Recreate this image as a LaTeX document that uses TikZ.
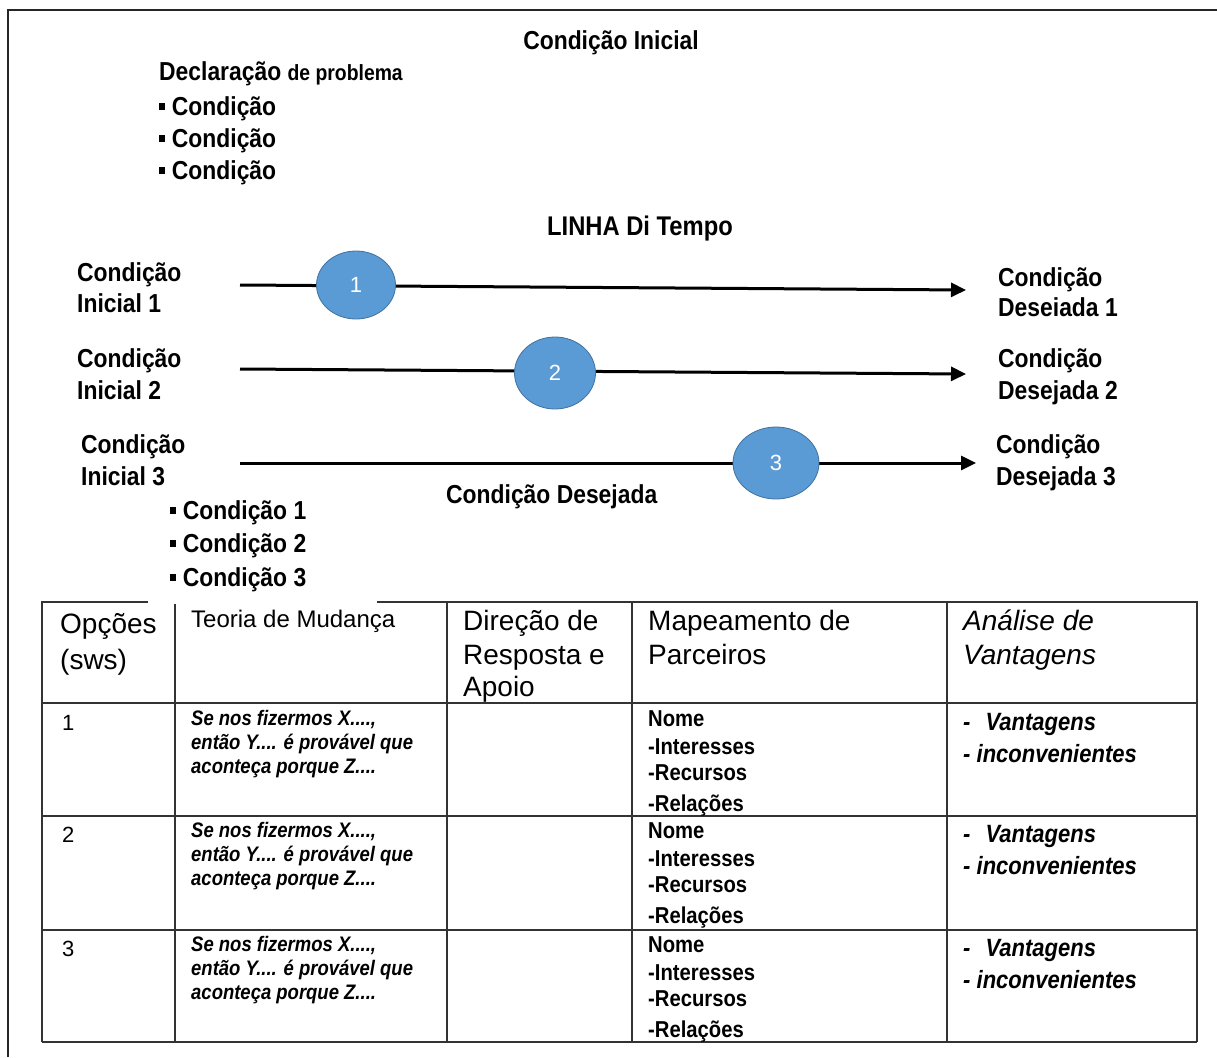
\documentclass[tikz,border=0pt]{standalone}
\usepackage{fontspec}
\setmainfont{Liberation Sans}
\newfontfamily\cf{Liberation Sans}[FakeStretch=0.88]
\usetikzlibrary{arrows.meta,shapes.geometric}
\newcommand\fsz[1]{\fontsize{#1}{#1}\selectfont}
\newcommand\sq{\rule[0.2em]{0.24em}{0.28em}\hspace{0.25em}}
\begin{document}
\begin{tikzpicture}[x=1pt,y=-1pt,
  frame/.style={line width=2.6pt, draw=black!85},
  grid/.style={line width=2pt, draw=black!80},
  tl/.style={line width=3pt, -{Triangle[length=15pt,width=14pt]}},
  bub/.style={ellipse, fill={rgb,255:red,91;green,155;blue,213}, draw={rgb,255:red,65;green,113;blue,156}, line width=0.8pt, inner sep=0pt, text=white, font=\fsz{22}},
  lab/.style={inner sep=0pt, anchor=base west, font=\cf\bfseries\fsz{26}},
  hd/.style={inner sep=0pt, anchor=base west, font=\fsz{28}},
  th/.style={inner sep=0pt, anchor=base west, font=\cf\bfseries\itshape\fsz{21}},
  pm/.style={inner sep=0pt, anchor=base west, font=\cf\bfseries\fsz{23}},
  va/.style={inner sep=0pt, anchor=base west, font=\cf\bfseries\itshape\fsz{25}},
  num/.style={inner sep=0pt, anchor=base west, font=\fsz{22}}]
\useasboundingbox (0,0) rectangle (1217,1057);
% outer frame
\draw[frame] (8,1057) -- (8,10) -- (1217,10);

% top texts
\node[lab, anchor=base] (ci) at (611,49) {Condição Inicial};
\node[lab] (dp) at (159,81) {Declaração {\fsz{22}de problema}};
\node[lab] (c1) at (159,115) {\sq Condição};
\node[lab] (c2) at (159,147) {\sq Condição};
\node[lab] (c3) at (159,179) {\sq Condição};
\node[lab, anchor=base, font=\cf\bfseries\fsz{27}] (lt) at (640,235) {LINHA Di Tempo};

% timeline labels
\node[lab] (i1a) at (77,281) {Condição};
\node[lab] (i1b) at (77,312) {Inicial 1};
\node[lab] (d1a) at (998,286) {Condição};
\node[lab] (d1b) at (998,316) {Deseiada 1};
\node[lab] (i2a) at (77,367) {Condição};
\node[lab] (i2b) at (77,399) {Inicial 2};
\node[lab] (d2a) at (998,367) {Condição};
\node[lab] (d2b) at (998,399) {Desejada 2};
\node[lab] (i3a) at (81,453) {Condição};
\node[lab] (i3b) at (81,485) {Inicial 3};
\node[lab] (d3a) at (996,453) {Condição};
\node[lab] (d3b) at (996,485) {Desejada 3};
\node[lab] (cd) at (446,503) {Condição Desejada};
\node[lab] (b1t) at (170,519) {\sq Condição 1};
\node[lab] (b2t) at (170,552) {\sq Condição 2};
\node[lab] (b3t) at (170,586) {\sq Condição 3};

% timelines
\coordinate (s1) at (240,285); \coordinate (e1) at (966,290);
\coordinate (s2) at (240,369); \coordinate (e2) at (966,374);
\coordinate (s3) at (240,463); \coordinate (e3) at (976,463);
\draw[tl] (s1) -- (e1);
\draw[tl] (s2) -- (e2);
\draw[tl] (s3) -- (e3);
\node[bub, minimum width=79pt, minimum height=68pt] (k1) at (356,285) {1};
\node[bub, minimum width=81pt, minimum height=72pt] (k2) at (555,373) {2};
\node[bub, minimum width=86pt, minimum height=72pt] (k3) at (776,463) {3};

% table grid
\draw[grid] (42,1042) -- (42,602) -- (148,602);
\draw[grid] (377,602) -- (1197,602) -- (1197,1042);
\draw[grid] (42,1042) -- (1197,1042);
\draw[grid] (175,604) -- (175,1042);
\draw[grid] (447,602) -- (447,1042);
\draw[grid] (632,602) -- (632,1042);
\draw[grid] (947,602) -- (947,1042);
\draw[grid] (42,703) -- (1197,703);
\draw[grid] (42,816) -- (1197,816);
\draw[grid] (42,930) -- (1197,930);

% header
\node[hd] (h1a) at (60,633) {Opções};
\node[hd] (h1b) at (60,669) {(sws)};
\node[hd, font=\fsz{24}] (h2) at (191,627) {Teoria de Mudança};
\node[hd] (h3a) at (463,630) {Direção de};
\node[hd] (h3b) at (463,664) {Resposta e};
\node[hd] (h3c) at (463,696) {Apoio};
\node[hd] (h4a) at (648,630) {Mapeamento de};
\node[hd] (h4b) at (648,664) {Parceiros};
\node[hd, font=\itshape\fsz{28}] (h5a) at (963,630) {Análise de};
\node[hd, font=\itshape\fsz{28}] (h5b) at (963,664) {Vantagens};

% rows
\foreach \r/\o in {1/0,2/112,3/226}{
  \node[num] (n\r) at (62,730+\o) {\r};
  \node[th] (ta\r) at (191,725+\o) {Se nos fizermos X....,};
  \node[th] (tb\r) at (191,749+\o) {então Y.... é provável que};
  \node[th] (tc\r) at (191,773+\o) {aconteça porque Z....};
  \node[pm] (pa\r) at (648,726+\o) {Nome};
  \node[pm] (pb\r) at (648,754+\o) {-Interesses};
  \node[pm] (pc\r) at (648,780+\o) {-Recursos};
  \node[pm] (pd\r) at (648,811+\o) {-Relações};
  \node[va] (va\r) at (963,730+\o) {-\hspace{0.6em}Vantagens};
  \node[va] (vb\r) at (963,762+\o) {- inconvenientes};
}
\end{tikzpicture}
\end{document}
